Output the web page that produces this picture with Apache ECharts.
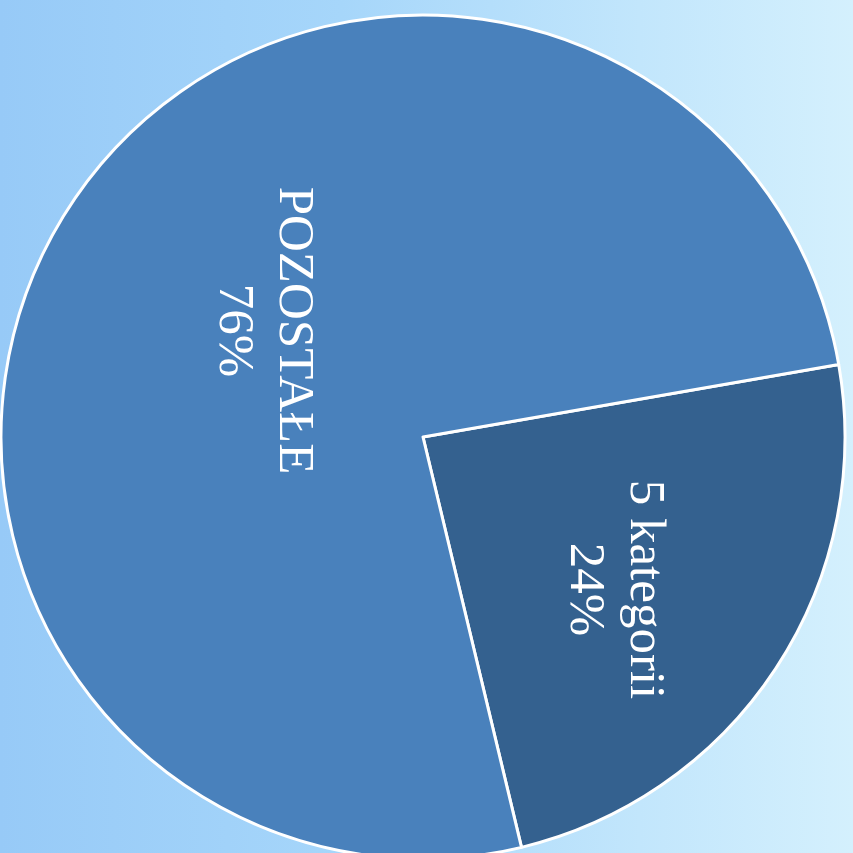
<!DOCTYPE html>
<html>
<head>
<meta charset="utf-8">
<script src="https://cdn.jsdelivr.net/npm/echarts@6/dist/echarts.min.js"></script>
<style>
html,body{margin:0;padding:0;width:853px;height:853px;overflow:hidden;}
body{background:linear-gradient(to right,#97CAF7 0%,#A6D6FA 40%,#C2E6FC 75%,#D4F0FD 100%);}
#c{width:853px;height:853px;}
</style>
</head>
<body>
<div id="c"></div>
<script>
const categories = ['5 kategorii', 'POZOSTAŁE'];
const values = [24, 76];
const sliceColors = ['#34618F', '#4981BC'];

const chart = echarts.init(document.getElementById('c'), null, {renderer: 'canvas'});
chart.setOption({
  backgroundColor: 'transparent',
  animation: false,
  series: [{
    type: 'pie',
    center: [423, 437],
    radius: [0, 422],
    startAngle: 9.9,
    clockwise: true,
    avoidLabelOverlap: false,
    itemStyle: {borderColor: '#ffffff', borderWidth: 3},
    label: {
      show: true,
      position: 'inner',
      rotate: -90,
      color: '#ffffff',
      fontFamily: '"Liberation Serif","Times New Roman",serif',
      fontSize: 51,
      lineHeight: 60,
      formatter: p => p.name + '\n' + p.percent.toFixed(0) + '%'
    },
    labelLine: {show: false},
    data: categories.map((n, i) => ({
      name: n,
      value: values[i],
      itemStyle: {color: sliceColors[i]},
      label: i === 0 ? {offset: [35, -13]} : {offset: [11, -19]}
    }))
  }]
});
</script>
</body>
</html>
